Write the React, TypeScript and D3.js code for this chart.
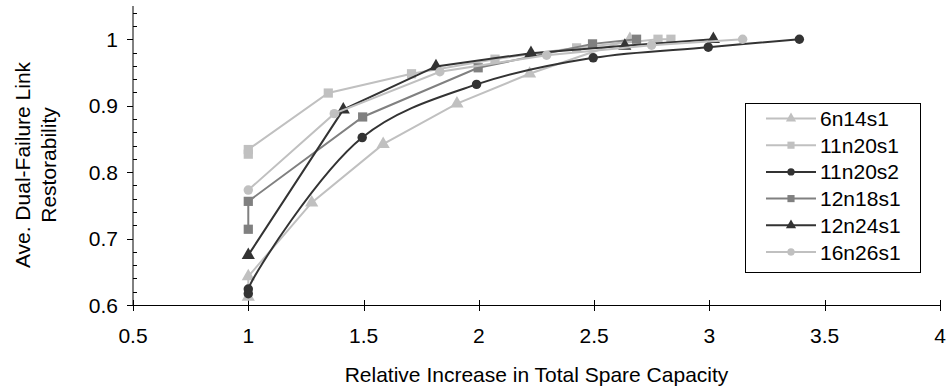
import { useEffect, useRef } from 'react'
import * as d3 from 'd3'

// series values
const s6n14s1X = [1, 1, 1.275, 1.585, 1.905, 2.22, 2.655]
const s6n14s1Y = [0.612, 0.643, 0.754, 0.842, 0.903, 0.948, 1.0]

const s11n20s1X = [1, 1, 1.347, 1.708, 2.07, 2.424, 2.777, 2.833]
const s11n20s1Y = [0.827, 0.834, 0.919, 0.948, 0.97, 0.987, 1.0, 1.0]

const s11n20s2X = [1, 1, 1.494, 1.99, 2.496, 2.995, 3.39]
const s11n20s2Y = [0.617, 0.624, 0.852, 0.932, 0.972, 0.988, 1.0]

const s12n18s1X = [1, 1, 1.496, 1.997, 2.493, 2.684]
const s12n18s1Y = [0.714, 0.756, 0.883, 0.957, 0.993, 1.0]

const s12n24s1X = [1, 1.412, 1.814, 2.226, 2.633, 3.017]
const s12n24s1Y = [0.675, 0.894, 0.959, 0.979, 0.99, 1.0]

const s16n26s1X = [1, 1.373, 1.831, 2.294, 2.749, 3.144]
const s16n26s1Y = [0.773, 0.888, 0.951, 0.976, 0.991, 1.0]

const xTicks = [0.5, 1, 1.5, 2, 2.5, 3, 3.5, 4]
const yTicks = [0.6, 0.7, 0.8, 0.9, 1]
const yMinorTicks = [0.62, 0.64, 0.66, 0.68, 0.72, 0.74, 0.76, 0.78, 0.82, 0.84, 0.86, 0.88, 0.92, 0.94, 0.96, 0.98, 1.02, 1.04]

const LIGHT = '#c0c0c0'
const MID = '#808080'
const DARK = '#333333'

const series = [
  { name: '6n14s1', xs: s6n14s1X, ys: s6n14s1Y, color: LIGHT, shape: 'triangle', smooth: false },
  { name: '11n20s1', xs: s11n20s1X, ys: s11n20s1Y, color: LIGHT, shape: 'square', smooth: false },
  { name: '11n20s2', xs: s11n20s2X, ys: s11n20s2Y, color: DARK, shape: 'circle', smooth: true },
  { name: '12n18s1', xs: s12n18s1X, ys: s12n18s1Y, color: MID, shape: 'square', smooth: false },
  { name: '12n24s1', xs: s12n24s1X, ys: s12n24s1Y, color: DARK, shape: 'triangle', smooth: false },
  { name: '16n26s1', xs: s16n26s1X, ys: s16n26s1Y, color: LIGHT, shape: 'circle', smooth: false },
]

const FONT = '"Liberation Sans", Arial, sans-serif'

export default function App() {
  const svgRef = useRef<SVGSVGElement | null>(null)

  useEffect(() => {
    if (!svgRef.current) return
    const width = 948
    const height = 389
    const left = 133, right = 940, top = 6, bottom = 305

    const svg = d3.select(svgRef.current)
    svg.selectAll('*').remove()
    svg.attr('width', width).attr('height', height)

    const x = d3.scaleLinear().domain([0.5, 4]).range([left, right])
    const y = d3.scaleLinear().domain([0.6, 1.05]).range([bottom, top])

    const symbolFor = (shape: string, size: number) => {
      const type = shape === 'triangle' ? d3.symbolTriangle : shape === 'square' ? d3.symbolSquare : d3.symbolCircle
      return d3.symbol().type(type).size(size)()
    }
    const sizeFor = (shape: string) => (shape === 'triangle' ? 75 : shape === 'square' ? 85 : 70)

    // Axes
    const axisG = svg.append('g').attr('stroke', '#000').attr('stroke-width', 1)
    axisG.append('line').attr('x1', left).attr('x2', left).attr('y1', top).attr('y2', bottom + 0.5)
    axisG.append('line').attr('x1', left).attr('x2', right + 0.5).attr('y1', bottom + 0.5).attr('y2', bottom + 0.5)
    yTicks.forEach(t => {
      axisG.append('line').attr('x1', left - 6).attr('x2', left).attr('y1', Math.round(y(t)) + 0.5).attr('y2', Math.round(y(t)) + 0.5)
    })
    yMinorTicks.forEach(t => {
      axisG.append('line').attr('x1', left).attr('x2', left + 4).attr('y1', Math.round(y(t)) + 0.5).attr('y2', Math.round(y(t)) + 0.5)
    })
    xTicks.forEach(t => {
      axisG.append('line').attr('x1', Math.round(x(t)) + 0.5).attr('x2', Math.round(x(t)) + 0.5).attr('y1', bottom - 5).attr('y2', bottom + 6)
    })

    svg.append('g').selectAll('text').data(yTicks).join('text')
      .attr('x', left - 15).attr('y', d => y(d)).attr('dy', '0.36em')
      .attr('text-anchor', 'end').attr('font-family', FONT).attr('font-size', 21)
      .text(d => String(d))

    svg.append('g').selectAll('text').data(xTicks).join('text')
      .attr('x', d => x(d)).attr('y', 343)
      .attr('text-anchor', 'middle').attr('font-family', FONT).attr('font-size', 21)
      .text(d => String(d))

    svg.append('text')
      .attr('x', (left + right) / 2).attr('y', 381.5)
      .attr('text-anchor', 'middle').attr('font-family', FONT).attr('font-size', 21)
      .text('Relative Increase in Total Spare Capacity')

    const yTitle = svg.append('text')
      .attr('transform', 'translate(22, 165) rotate(-90)')
      .attr('text-anchor', 'middle').attr('font-family', FONT).attr('font-size', 21)
    yTitle.append('tspan').attr('x', 0).attr('dy', '0.36em').text('Ave.  Dual-Failure Link')
    yTitle.append('tspan').attr('x', 0).attr('dy', 26).text('Restorability')

    // Lines and markers
    series.forEach(s => {
      const pts = s.xs.map((v, i) => [v, s.ys[i]] as [number, number])
      const line = d3.line<[number, number]>()
        .x(d => x(d[0])).y(d => y(d[1]))
        .curve(s.smooth ? d3.curveCatmullRom.alpha(0.5) : d3.curveLinear)
      svg.append('path').attr('d', line(pts) || '')
        .attr('fill', 'none').attr('stroke', s.color).attr('stroke-width', 2)
      svg.append('g').selectAll('path').data(pts).join('path')
        .attr('transform', d => `translate(${x(d[0])},${y(d[1])})`)
        .attr('d', symbolFor(s.shape, sizeFor(s.shape)))
        .attr('fill', s.color)
    })

    // Legend
    const lg = svg.append('g')
    lg.append('rect').attr('x', 745.5).attr('y', 103.5).attr('width', 175).attr('height', 169)
      .attr('fill', '#fff').attr('stroke', '#000').attr('stroke-width', 1)
    series.forEach((s, i) => {
      const cy = 118.5 + i * 26.7
      lg.append('line').attr('x1', 766).attr('x2', 816).attr('y1', cy).attr('y2', cy)
        .attr('stroke', s.color).attr('stroke-width', 2)
      lg.append('path').attr('transform', `translate(791,${cy})`)
        .attr('d', symbolFor(s.shape, sizeFor(s.shape) * 0.6)).attr('fill', s.color)
      lg.append('text').attr('x', 820).attr('y', cy).attr('dy', '0.36em')
        .attr('font-family', FONT).attr('font-size', 21).text(s.name)
    })
  }, [])

  return (
    <svg ref={svgRef} style={{ position: 'absolute', left: 0, top: 0 }}></svg>
  )
}
